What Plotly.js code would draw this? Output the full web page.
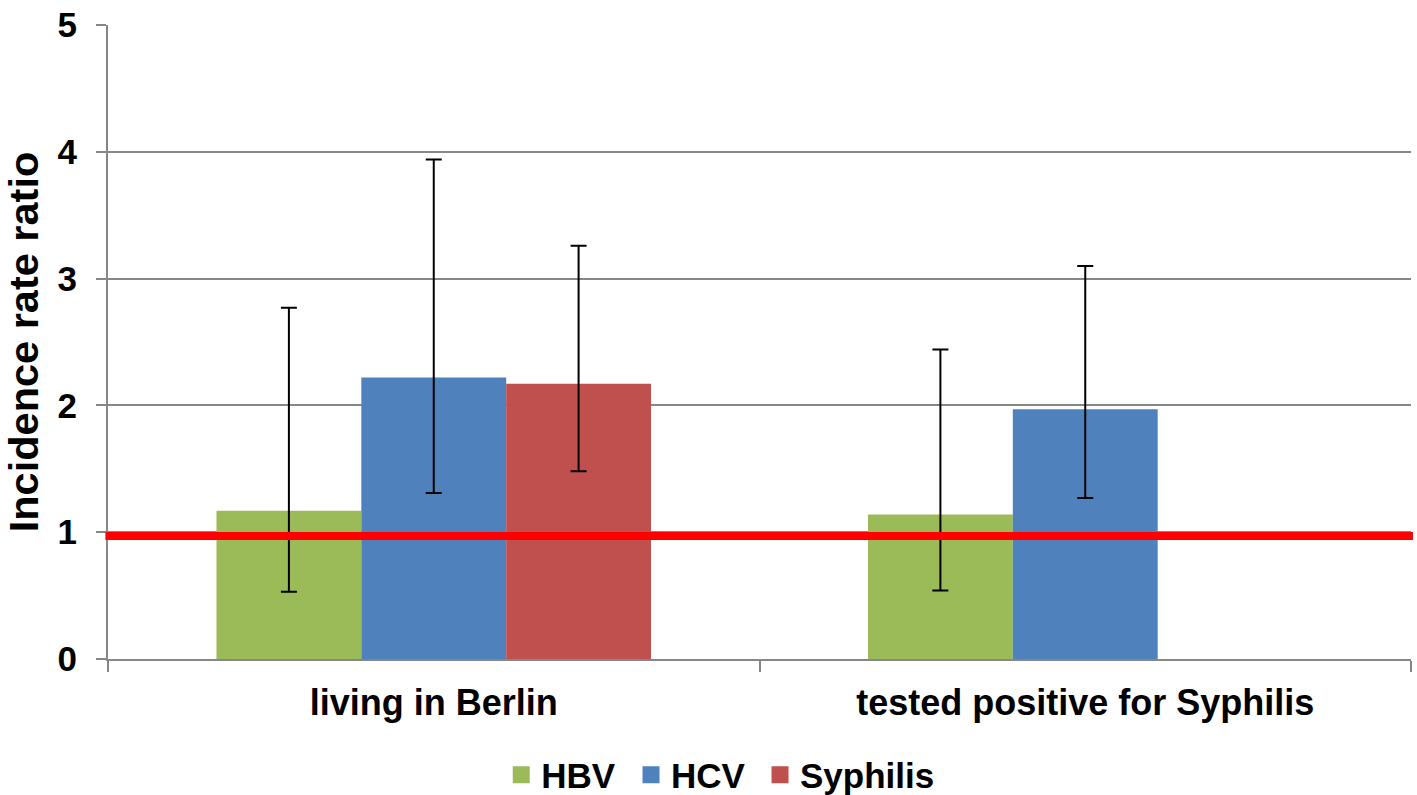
<!DOCTYPE html>
<html>
<head>
<meta charset="utf-8">
<script src="https://cdn.plot.ly/plotly-3.0.1.min.js"></script>
<style>
  html, body { margin: 0; padding: 0; background: #ffffff; }
  #chart { width: 1417px; height: 795px; }
</style>
</head>
<body>
<div id="chart"></div>
<script>
// ---- data ----
var categories = ['living in Berlin', 'tested positive for Syphilis'];
var seriesNames = ['HBV', 'HCV', 'Syphilis'];
var hbvValues = [1.17, 1.14];
var hcvValues = [2.22, 1.97];
var syphilisValues = [2.17, null];
var hbvLower = [0.53, 0.54];
var hbvUpper = [2.77, 2.44];
var hcvLower = [1.31, 1.27];
var hcvUpper = [3.94, 3.10];
var syphilisLower = [1.48, null];
var syphilisUpper = [3.26, null];
var referenceValue = 0.97;
var yTickValues = [0, 1, 2, 3, 4, 5];
var seriesColors = ['#9BBB59', '#4F81BD', '#C0504D'];

var FONT = '"Liberation Sans", Arial, Helvetica, sans-serif';
var GRID = '#878787';

function plus(vals, up) { return vals.map(function (v, i) { return (v == null || up[i] == null) ? null : up[i] - v; }); }
function minus(vals, lo) { return vals.map(function (v, i) { return (v == null || lo[i] == null) ? null : v - lo[i]; }); }

var values = [hbvValues, hcvValues, syphilisValues];
var lowers = [hbvLower, hcvLower, syphilisLower];
var uppers = [hbvUpper, hcvUpper, syphilisUpper];
var legendIds = ['legend', 'legend2', 'legend3'];
var legendX = [0.3018, 0.4014, 0.5004];

var traces = [];
for (var s = 0; s < 3; s++) {
  traces.push({
    type: 'bar',
    name: seriesNames[s],
    x: categories,
    y: values[s],
    marker: { color: seriesColors[s], line: { width: 0 } },
    showlegend: false,
    error_y: {
      type: 'data',
      symmetric: false,
      array: plus(values[s], uppers[s]),
      arrayminus: minus(values[s], lowers[s]),
      color: '#000000',
      thickness: 2,
      width: 8
    },
    hoverinfo: 'x+y'
  });
}
// legend entries (drawn on a hidden overlay axis so they do not affect grouping)
for (var k = 0; k < 3; k++) {
  traces.push({
    type: 'bar',
    name: seriesNames[k],
    x: [categories[0]],
    y: [null],
    xaxis: 'x2',
    yaxis: 'y2',
    legend: legendIds[k],
    marker: { color: seriesColors[k], line: { width: 5, color: seriesColors[k] } },
    showlegend: true,
    hoverinfo: 'skip'
  });
}

function legendCfg(xpos) {
  return {
    orientation: 'h',
    x: xpos,
    xanchor: 'left',
    xref: 'paper',
    y: 0.0623,
    yref: 'container',
    yanchor: 'top',
    font: { family: FONT, size: 35, color: '#000000', weight: 'bold' },
    bgcolor: 'rgba(0,0,0,0)',
    borderwidth: 0
  };
}

var layout = {
  width: 1417,
  height: 795,
  paper_bgcolor: '#ffffff',
  plot_bgcolor: '#ffffff',
  margin: { l: 108, r: 6, t: 25, b: 136, autoexpand: false },
  font: { family: FONT, size: 35, color: '#000000', weight: 'bold' },
  barmode: 'group',
  bargap: 0.333,
  bargroupgap: 0,
  showlegend: true,
  legend: legendCfg(legendX[0]),
  legend2: legendCfg(legendX[1]),
  legend3: legendCfg(legendX[2]),
  xaxis: {
    type: 'category',
    range: [-0.5, 1.5],
    showgrid: false,
    showline: true,
    linecolor: GRID,
    linewidth: 2,
    ticks: 'outside',
    tickson: 'boundaries',
    ticklen: 11,
    tickwidth: 2,
    tickcolor: GRID,
    ticklabelstandoff: 11,
    tickfont: { family: FONT, size: 36, color: '#000000', weight: 'bold' },
    zeroline: false,
    automargin: false,
    fixedrange: true
  },
  yaxis: {
    range: [0, 5],
    tickvals: yTickValues,
    showgrid: true,
    gridcolor: GRID,
    gridwidth: 2,
    showline: true,
    linecolor: GRID,
    linewidth: 2,
    ticks: 'outside',
    ticklen: 10,
    tickwidth: 2,
    tickcolor: GRID,
    ticklabelstandoff: 12,
    tickfont: { family: FONT, size: 35, color: '#000000', weight: 'bold' },
    zeroline: false,
    automargin: false,
    title: { text: 'Incidence rate ratio', font: { family: FONT, size: 41.5, color: '#000000', weight: 'bold' }, standoff: 16 },
    fixedrange: true
  },
  xaxis2: { overlaying: 'x', visible: false, type: 'category', fixedrange: true },
  yaxis2: { overlaying: 'y', visible: false, range: [10, 20], fixedrange: true },
  shapes: [{
    type: 'line',
    xref: 'paper',
    yref: 'y',
    x0: -0.002,
    x1: 1.0015,
    y0: referenceValue,
    y1: referenceValue,
    line: { color: '#FF0000', width: 8 },
    layer: 'above'
  }]
};

Plotly.newPlot('chart', traces, layout, { displayModeBar: false, staticPlot: true });
</script>
</body>
</html>
